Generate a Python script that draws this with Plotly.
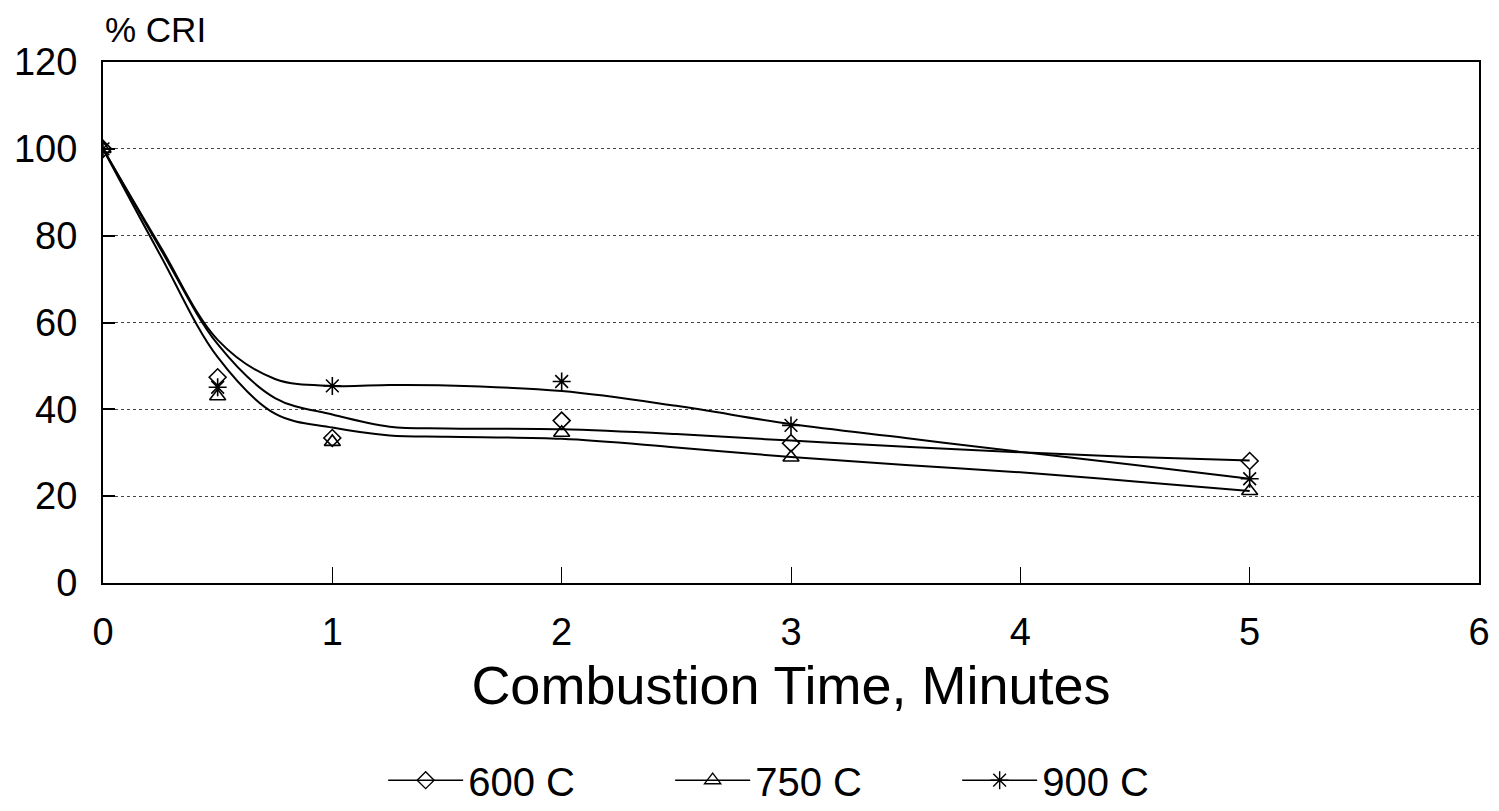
import plotly.graph_objects as go

# Measured data points (% CRI vs combustion time, minutes)
time_pts = [0, 0.5, 1, 2, 3, 5]
cri_600 = [100, 47.4, 33.4, 37.4, 32.2, 28.1]
cri_750 = [100, 43.0, 32.5, 34.6, 28.9, 21.2]
cri_900 = [100, 45.1, 45.4, 46.4, 36.3, 24.0]

# Smoothed fit curves
fit_t = [0, 0.25, 0.5, 0.75, 1, 1.25, 1.5, 2, 2.5, 3, 3.5, 4, 4.5, 5]
fit_600 = [100, 77, 55, 42.6, 38.8, 36.0, 35.6, 35.4, 34.3, 32.8, 31.4, 30.1, 29.0, 28.2]
fit_750 = [100, 75.5, 52, 39.0, 35.8, 34.0, 33.7, 33.2, 31.2, 29.0, 27.2, 25.5, 23.4, 21.2]
fit_900 = [100, 77.5, 56, 47.0, 45.4, 45.6, 45.5, 44.2, 40.8, 36.6, 33.4, 30.2, 27.2, 24.0]

x_ticks = [0, 1, 2, 3, 4, 5, 6]
y_ticks = [0, 20, 40, 60, 80, 100, 120]

series = [
    ("600 C", cri_600, fit_600, "diamond-open", 13),
    ("750 C", cri_750, fit_750, "triangle-up-open", 14),
    ("900 C", cri_900, fit_900, "asterisk-open", 15),
]

FONT = "Liberation Sans, Arial, Helvetica, sans-serif"
fig = go.Figure()
for name, pts, fit, sym, sz in series:
    fig.add_trace(go.Scatter(x=fit_t, y=fit, mode="lines", line=dict(color="black", width=2, shape="spline", smoothing=1.0),
                             showlegend=False, hoverinfo="skip"))
    fig.add_trace(go.Scatter(x=time_pts, y=pts, mode="markers", name=name, showlegend=False,
                             marker=dict(symbol=sym, size=sz, color="black", line=dict(color="black", width=1.6))))
    fig.add_trace(go.Scatter(x=[None], y=[None], mode="lines+markers", name=name,
                             line=dict(color="black", width=1.6),
                             marker=dict(symbol=sym, size=sz, color="black", line=dict(color="black", width=1.4))))

fig.update_layout(
    width=1499, height=811,
    margin=dict(l=103, r=20, t=62, b=228, autoexpand=False),
    paper_bgcolor="white", plot_bgcolor="white",
    font=dict(family=FONT, color="black", size=38),
    showlegend=True,
    legend=dict(orientation="h", x=0.2036, xanchor="left", yref="container", y=0.038, yanchor="middle",
                font=dict(size=40), entrywidth=197, entrywidthmode="pixels", itemwidth=75),
)
fig.update_xaxes(range=[0, 6], tickvals=x_ticks, showgrid=False, zeroline=False,
                 showline=True, linecolor="black", linewidth=2, mirror=True,
                 ticks="inside", ticklen=16, tickwidth=1, tickcolor="black",
                 tickfont=dict(size=38), ticklabelstandoff=14,
                 title=dict(text="Combustion Time, Minutes", font=dict(size=54)))
fig.update_yaxes(range=[0, 120], tickvals=y_ticks, showgrid=True,
                 gridcolor="#444", gridwidth=1, griddash="dot", zeroline=False,
                 showline=True, linecolor="black", linewidth=2, mirror=True,
                 ticks="inside", ticklen=12, tickwidth=2, tickcolor="black",
                 tickfont=dict(size=38), ticklabelstandoff=16)
fig.add_annotation(text="% CRI", xref="paper", yref="paper", x=0, y=1.063, xanchor="left", yanchor="middle",
                   showarrow=False, font=dict(size=35, family=FONT))
fig.write_html("out.html")
